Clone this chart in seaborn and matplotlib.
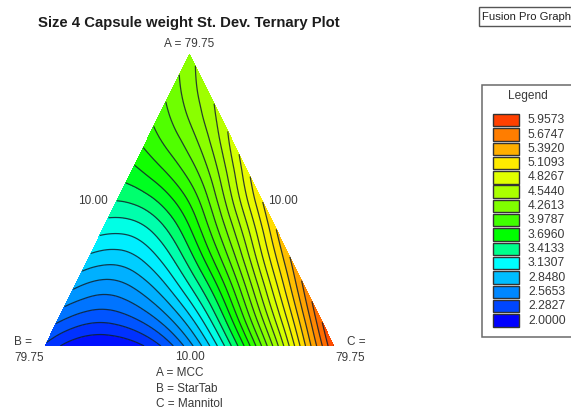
import numpy as np
import matplotlib
matplotlib.use("Agg")
import matplotlib.pyplot as plt
import matplotlib.tri as mtri
from matplotlib.patches import Rectangle
import seaborn as sns

# Response, on a simplex lattice. Each row holds a fixed A share,
# listed from the B side to the C side.
row_0 = [2.26, 2.06, 2.00, 2.07, 2.28, 2.65, 3.15, 3.77, 4.49, 5.24, 5.96]
row_1 = [2.48, 2.36, 2.37, 2.51, 2.78, 3.19, 3.74, 4.40, 5.07, 5.78]
row_2 = [2.72, 2.63, 2.70, 2.91, 3.25, 3.70, 4.29, 4.93, 5.58]
row_3 = [2.95, 2.91, 3.03, 3.30, 3.70, 4.20, 4.80, 5.40]
row_4 = [3.18, 3.19, 3.36, 3.68, 4.13, 4.66, 5.25]
row_5 = [3.42, 3.50, 3.71, 4.05, 4.55, 5.10]
row_6 = [3.65, 3.81, 4.04, 4.41, 4.93]
row_7 = [3.88, 4.07, 4.33, 4.75]
row_8 = [4.06, 4.29, 4.58]
row_9 = [4.22, 4.47]
row_10 = [4.35]
rows = [row_0, row_1, row_2, row_3, row_4, row_5, row_6, row_7, row_8, row_9, row_10]

legend_values = ["5.9573", "5.6747", "5.3920", "5.1093", "4.8267", "4.5440", "4.2613",
                 "3.9787", "3.6960", "3.4133", "3.1307", "2.8480", "2.5653", "2.2827", "2.0000"]
legend_colors = ["#ff4000", "#ff7d00", "#ffaf00", "#ffeb00", "#e1ff00", "#aaff00", "#80ff00",
                 "#40ff00", "#00ff00", "#00ff8c", "#00ffff", "#00beff", "#0087ff", "#0046ff", "#0000ff"]
component_labels = ["A = MCC", "B = StarTab", "C = Mannitol"]

W, H = 571, 412
sns.set_theme(style="white")
plt.rcParams["font.family"] = ["Liberation Sans", "DejaVu Sans"]
fig = plt.figure(figsize=(W / 100, H / 100), dpi=100, facecolor="white")
ax = fig.add_axes([45 / W, 1 - 346 / H, 289 / W, 292 / H])
ax.set_xlim(0, 1)
ax.set_ylim(0, 1)
ax.axis("off")

n = len(rows) - 1
xs, ys, zs = [], [], []
for i, row in enumerate(rows):
    for j, v in enumerate(row):
        a = i / n
        c = j / n
        xs.append(c + a / 2)
        ys.append(a)
        zs.append(v)
tri = mtri.Triangulation(xs, ys)
interp = mtri.CubicTriInterpolator(tri, np.array(zs), kind="min_E")
fine_tri, fine_z = mtri.UniformTriRefiner(tri).refine_field(np.array(zs), triinterpolator=interp, subdiv=3)

low = float(legend_values[-1])
high = float(legend_values[0])
levels = np.linspace(low, high, 29)
cmap = sns.blend_palette(legend_colors[::-1], as_cmap=True)
ax.tricontourf(fine_tri, fine_z, levels=levels, cmap=cmap, extend="both")
ax.tricontour(fine_tri, fine_z, levels=levels[1:], colors="#102030", linewidths=0.9, alpha=0.85)


def put(px, py, s, **kw):
    kw.setdefault("ha", "center")
    kw.setdefault("va", "center")
    kw.setdefault("fontsize", 8.5)
    kw.setdefault("color", "#3a3a3a")
    fig.text(px / W, 1 - py / H, s, **kw)


put(189, 23, "Size 4 Capsule weight St. Dev. Ternary Plot", fontsize=10.7, fontweight="bold", color="#1c1c1c")
put(189, 44, "A = 79.75")
put(93, 201, "10.00")
put(283, 201, "10.00")
put(190, 357, "10.00")
put(14, 342, "B =", ha="left")
put(29, 358, "79.75")
put(347, 342, "C =", ha="left")
put(350, 358, "79.75")
for py, s in zip([373, 389, 404], component_labels):
    put(156, py, s, ha="left")


def box(x0, y0, x1, y1, **kw):
    fig.add_artist(Rectangle((x0 / W, 1 - y1 / H), (x1 - x0) / W, (y1 - y0) / H,
                             transform=fig.transFigure, **kw))


box(479, 7, 575, 26, facecolor="white", edgecolor="#555555", linewidth=1.0)
put(482, 16.5, "Fusion Pro Graph", ha="left", fontsize=8.1, color="#222222")
box(482, 85, 575, 337, facecolor="white", edgecolor="#6a6a6a", linewidth=1.1)
put(528, 96, "Legend", fontsize=8.6)
for k, (label, col) in enumerate(zip(legend_values, legend_colors)):
    top = 114 + k * 14.3
    box(493, top, 519, top + 12.3, facecolor=col, edgecolor="#333333", linewidth=1.0)
    put(528, top + 6.3, label, ha="left", fontsize=8.7)

fig.savefig("out.png", dpi=100, facecolor="white")
